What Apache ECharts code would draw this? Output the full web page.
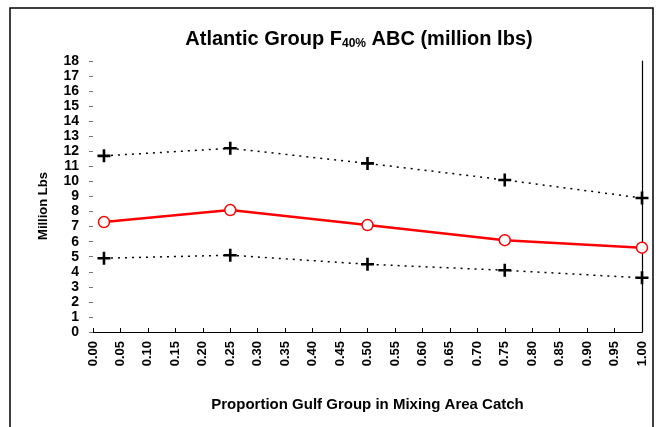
<!DOCTYPE html>
<html>
<head>
<meta charset="utf-8">
<script src="https://cdn.jsdelivr.net/npm/echarts@6/dist/echarts.min.js"></script>
<style>
html,body{margin:0;padding:0;background:#fff;}
#chart{width:659px;height:427px;}
</style>
</head>
<body>
<div id="chart"></div>
<script>
const xPositions = [0.02, 0.25, 0.50, 0.75, 1.00];
const abcValues = [7.3, 8.1, 7.1, 6.1, 5.6];
const upperValues = [11.7, 12.2, 11.2, 10.1, 8.9];
const lowerValues = [4.9, 5.1, 4.5, 4.1, 3.6];
const yTickLabels = ['0','1','2','3','4','5','6','7','8','9','10','11','12','13','14','15','16','17','18'];
const xTickLabels = ['0.00','0.05','0.10','0.15','0.20','0.25','0.30','0.35','0.40','0.45','0.50','0.55','0.60','0.65','0.70','0.75','0.80','0.85','0.90','0.95','1.00'];

const pairs = vals => xPositions.map((x, i) => [x, vals[i]]);
const plus = 'path://M4,0H6V4H10V6H6V10H4V6H0V4H4Z';
const font = '"Liberation Sans", Arial, sans-serif';

const chart = echarts.init(document.getElementById('chart'));
chart.setOption({
  animation: false,
  backgroundColor: '#fff',
  title: {
    text: 'Atlantic Group F{sub|40%} ABC (million lbs)',
    left: 354, top: 24, textAlign: 'center',
    textStyle: {
      fontFamily: font, fontSize: 20, fontWeight: 'bold', color: '#000',
      rich: { sub: { fontFamily: font, fontSize: 12, fontWeight: 'bold', color: '#000', verticalAlign: 'bottom', padding: [9, 0, 0, 0] } }
    }
  },
  graphic: [{
    type: 'rect', shape: { x: 10, y: 8, width: 643, height: 440 },
    style: { fill: 'none', stroke: '#000', lineWidth: 1.5 }, silent: true
  }, {
    type: 'text', x: 43, y: 206, rotation: Math.PI / 2,
    style: { text: 'Million Lbs', fontFamily: font, fontSize: 13, fontWeight: 'bold', fill: '#000', align: 'center', verticalAlign: 'middle' },
    silent: true
  }],
  grid: { left: 93, right: 17, top: 61, bottom: 95 },
  xAxis: {
    type: 'value', min: 0, max: 1, interval: 0.05,
    name: 'Proportion Gulf Group in Mixing Area Catch',
    nameLocation: 'middle', nameGap: 65,
    nameTextStyle: { fontFamily: font, fontSize: 15, fontWeight: 'bold', color: '#000' },
    axisLine: { show: true, lineStyle: { color: '#000', width: 1.2 } },
    axisTick: { show: true, inside: true, length: 4, lineStyle: { color: '#000' } },
    splitLine: { show: false },
    axisLabel: {
      rotate: 90, margin: 9, color: '#000',
      fontFamily: font, fontSize: 13, fontWeight: 'bold',
      formatter: (v) => xTickLabels[Math.round(v / 0.05)]
    }
  },
  yAxis: [{
    type: 'value', min: 0, max: 18, interval: 1,
    axisLine: { show: false },
    axisTick: { show: true, length: 4, lineStyle: { color: '#777' } },
    splitLine: { show: false },
    axisLabel: {
      margin: 14, color: '#000', fontFamily: font, fontSize: 14, fontWeight: 'bold',
      formatter: (v) => yTickLabels[v]
    }
  }, {
    type: 'value', min: 0, max: 18, interval: 1, position: 'right',
    axisLine: { show: true, lineStyle: { color: '#000', width: 1.2 } },
    axisTick: { show: false }, axisLabel: { show: false }, splitLine: { show: false }
  }],
  series: [{
    name: 'Upper', type: 'line', data: pairs(upperValues),
    symbol: plus, symbolSize: 13,
    itemStyle: { color: '#000' },
    lineStyle: { color: '#000', width: 1.5, type: [2, 5] }
  }, {
    name: 'Lower', type: 'line', data: pairs(lowerValues),
    symbol: plus, symbolSize: 13,
    itemStyle: { color: '#000' },
    lineStyle: { color: '#000', width: 1.5, type: [2, 5] }
  }, {
    name: 'ABC', type: 'line', data: pairs(abcValues),
    symbol: 'circle', symbolSize: 11,
    itemStyle: { color: '#fff', borderColor: '#f00', borderWidth: 1.5 },
    lineStyle: { color: '#f00', width: 2.5 }
  }]
});
</script>
</body>
</html>
